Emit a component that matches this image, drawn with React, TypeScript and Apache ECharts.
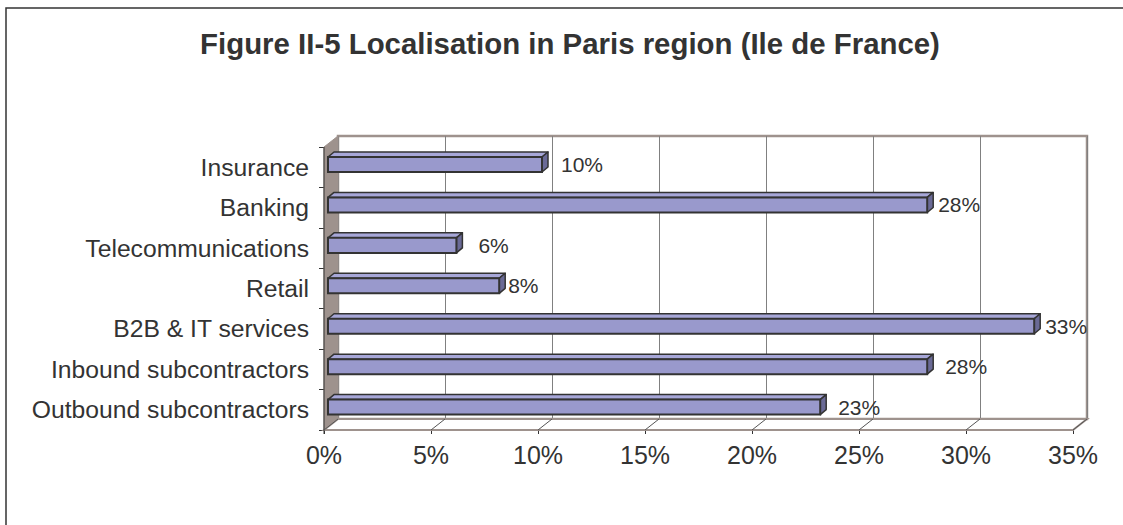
import React, { useEffect, useRef } from 'react';
import * as echarts from 'echarts';

const categories = [
  'Insurance',
  'Banking',
  'Telecommunications',
  'Retail',
  'B2B & IT services',
  'Inbound subcontractors',
  'Outbound subcontractors',
];
const values = [10, 28, 6, 8, 33, 28, 23];
const tickValues = [0, 5, 10, 15, 20, 25, 30, 35];
const titleText = 'Figure II-5 Localisation in Paris region (Ile de France)';

const FONT = "'Liberation Sans', Arial, Helvetica, sans-serif";
const W = 1123;
const H = 525;
const FRONT = { left: 324, right: 50, top: 147, bottom: 95 };
const DX = 14;
const DY = -11;
const BAR_DX = 4;
const BAR_DY = -2.7;
const BAR_DEPTH_X = 6;
const BAR_DEPTH_Y = -5;
const labelGaps = [13, 5, 16, 3, 5, 12, 12];
const WALL = '#9e928d';
const DARK = '#333333';

export default function App() {
  const ref = useRef<HTMLDivElement>(null);
  useEffect(() => {
    document.body.style.margin = '0';
    if (!ref.current) return;
    const chart = echarts.init(ref.current, undefined, { renderer: 'svg' });
    const option: any = {
      animation: false,
      backgroundColor: '#ffffff',
      textStyle: { fontFamily: FONT },
      graphic: [
        {
          type: 'rect',
          shape: { x: 6, y: 8, width: 1140, height: 540 },
          style: { fill: 'none', stroke: DARK, lineWidth: 1.5 },
          z: 100,
        },
        {
          type: 'text',
          x: 570,
          y: 43.5,
          style: {
            text: titleText,
            align: 'center',
            verticalAlign: 'middle',
            fill: DARK,
            font: `bold 29.4px ${FONT}`,
          },
          z: 100,
        },
      ],
      grid: [
        { ...FRONT },
        {
          left: FRONT.left + DX,
          right: FRONT.right - DX,
          top: FRONT.top + DY,
          bottom: FRONT.bottom - DY,
          show: true,
          backgroundColor: '#ffffff',
          borderColor: WALL,
          borderWidth: 2.5,
        },
        {
          left: FRONT.left + BAR_DX,
          right: FRONT.right - BAR_DX,
          top: FRONT.top + BAR_DY,
          bottom: FRONT.bottom - BAR_DY,
        },
      ],
      xAxis: [
        {
          gridIndex: 0,
          type: 'value',
          min: 0,
          max: 35,
          interval: 5,
          axisLine: { show: false },
          axisTick: { show: true, length: 4, lineStyle: { color: DARK } },
          splitLine: { show: false },
          axisLabel: {
            formatter: '{value}%',
            fontSize: 25,
            color: DARK,
            margin: 12,
            fontFamily: FONT,
          },
        },
        {
          gridIndex: 1,
          type: 'value',
          min: 0,
          max: 35,
          interval: 5,
          axisLine: { show: false },
          axisTick: { show: false },
          axisLabel: { show: false },
          splitLine: { show: true, lineStyle: { color: '#808080', width: 1 } },
        },
        {
          gridIndex: 2,
          type: 'value',
          min: 0,
          max: 35,
          interval: 5,
          show: false,
        },
      ],
      yAxis: [
        {
          gridIndex: 0,
          type: 'category',
          data: categories,
          inverse: true,
          axisLine: { show: true, lineStyle: { color: DARK, width: 1 } },
          axisTick: { show: true, length: 5, lineStyle: { color: DARK } },
          axisLabel: {
            fontSize: 24.7,
            color: DARK,
            margin: 15,
            fontFamily: FONT,
          },
          splitLine: { show: false },
        },
        {
          gridIndex: 1,
          type: 'value',
          min: 0,
          max: 1,
          show: false,
          splitLine: { show: false },
        },
        {
          gridIndex: 2,
          type: 'category',
          data: categories,
          inverse: true,
          show: false,
        },
      ],
      series: [
        {
          name: 'frame',
          type: 'custom',
          xAxisIndex: 0,
          yAxisIndex: 0,
          silent: true,
          z: 1,
          data: [[0, categories[0]]],
          renderItem: (params: any) => {
            const cs = params.coordSys;
            const x0 = cs.x;
            const x1 = cs.x + cs.width;
            const y0 = cs.y;
            const y1 = cs.y + cs.height;
            return {
              type: 'group',
              children: [
                {
                  type: 'polygon',
                  shape: {
                    points: [
                      [x0, y0],
                      [x0 + DX, y0 + DY],
                      [x0 + DX, y1 + DY],
                      [x0, y1],
                    ],
                  },
                  style: { fill: WALL, stroke: WALL, lineWidth: 1 },
                },
                {
                  type: 'polygon',
                  shape: {
                    points: [
                      [x0, y1],
                      [x0 + DX, y1 + DY],
                      [x1 + DX, y1 + DY],
                      [x1, y1],
                    ],
                  },
                  style: { fill: '#ffffff', stroke: WALL, lineWidth: 2 },
                },
                {
                  type: 'line',
                  shape: { x1: x0, y1: y0, x2: x0, y2: y1 + 4 },
                  style: { stroke: DARK, lineWidth: 1 },
                },
              ],
            };
          },
        },
        {
          name: 'floorTicks',
          type: 'custom',
          xAxisIndex: 0,
          yAxisIndex: 0,
          silent: true,
          z: 1,
          data: tickValues.map((t) => [t, categories[0]]),
          renderItem: (params: any, api: any) => {
            const cs = params.coordSys;
            const x = api.coord([api.value(0), 0])[0];
            const yb = cs.y + cs.height;
            return {
              type: 'line',
              shape: { x1: x, y1: yb, x2: x + DX, y2: yb + DY },
              style: { stroke: '#555555', lineWidth: 1 },
            };
          },
        },
        {
          name: 'Localisation',
          type: 'custom',
          xAxisIndex: 2,
          yAxisIndex: 2,
          silent: true,
          z: 5,
          data: values.map((v, i) => [v, categories[i]]),
          renderItem: (params: any, api: any) => {
            const v = api.value(0);
            const idx = params.dataIndex;
            const start = api.coord([0, idx]);
            const end = api.coord([v, idx]);
            const band = api.size([0, 1])[1];
            const h = band * 0.372;
            const x0 = start[0];
            const x1 = end[0];
            const yc = end[1];
            const yt = yc - h / 2;
            const yb = yc + h / 2;
            return {
              type: 'group',
              children: [
                {
                  type: 'polygon',
                  shape: {
                    points: [
                      [x0, yt],
                      [x0 + BAR_DEPTH_X, yt + BAR_DEPTH_Y],
                      [x1 + BAR_DEPTH_X, yt + BAR_DEPTH_Y],
                      [x1, yt],
                    ],
                  },
                  style: { fill: '#a7a7d8', stroke: DARK, lineWidth: 1.5, lineJoin: 'round' },
                },
                {
                  type: 'polygon',
                  shape: {
                    points: [
                      [x1, yt],
                      [x1 + BAR_DEPTH_X, yt + BAR_DEPTH_Y],
                      [x1 + BAR_DEPTH_X, yb + BAR_DEPTH_Y],
                      [x1, yb],
                    ],
                  },
                  style: { fill: '#6a6a96', stroke: DARK, lineWidth: 1.5, lineJoin: 'round' },
                },
                {
                  type: 'rect',
                  shape: { x: x0, y: yt, width: x1 - x0, height: h },
                  style: { fill: '#9999cc', stroke: DARK, lineWidth: 2 },
                },
                {
                  type: 'text',
                  style: {
                    text: `${v}%`,
                    x: x1 + BAR_DEPTH_X + labelGaps[idx],
                    y: yc,
                    align: 'left',
                    verticalAlign: 'middle',
                    fill: DARK,
                    font: `21px ${FONT}`,
                  },
                },
              ],
            };
          },
        },
      ],
    };
    chart.setOption(option);
    return () => {
      chart.dispose();
    };
  }, []);
  return <div ref={ref} style={{ width: W, height: H }} />;
}
